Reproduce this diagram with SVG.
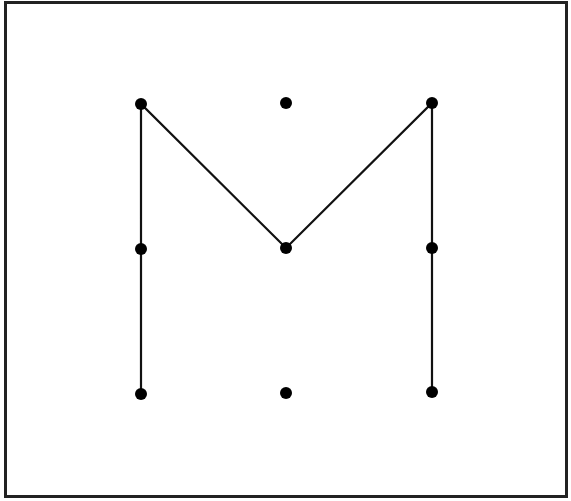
<svg xmlns="http://www.w3.org/2000/svg" width="571" height="501" viewBox="0 0 571 501">
<style>
.frame{fill:#fff;stroke:#222;stroke-width:3}
.dot{fill:#000}
.line{stroke:#111;stroke-width:2.2;fill:none;stroke-linejoin:miter}
</style>
<rect width="571" height="501" fill="#fff"/>
<rect class="frame" x="5.5" y="2.5" width="561" height="494"/>
<g id="connectors">
<polyline class="line" points="141,394 141,104 286,248 432,103 432,392"/>
</g>
<g id="n11"><circle class="dot" cx="141" cy="104" r="6"/></g>
<g id="n12"><circle class="dot" cx="286" cy="103" r="6"/></g>
<g id="n13"><circle class="dot" cx="432" cy="103" r="6"/></g>
<g id="n21"><circle class="dot" cx="141" cy="249" r="6"/></g>
<g id="n22"><circle class="dot" cx="286" cy="248" r="6"/></g>
<g id="n23"><circle class="dot" cx="432" cy="248" r="6"/></g>
<g id="n31"><circle class="dot" cx="141" cy="394" r="6"/></g>
<g id="n32"><circle class="dot" cx="286" cy="393" r="6"/></g>
<g id="n33"><circle class="dot" cx="432" cy="392" r="6"/></g>
</svg>
